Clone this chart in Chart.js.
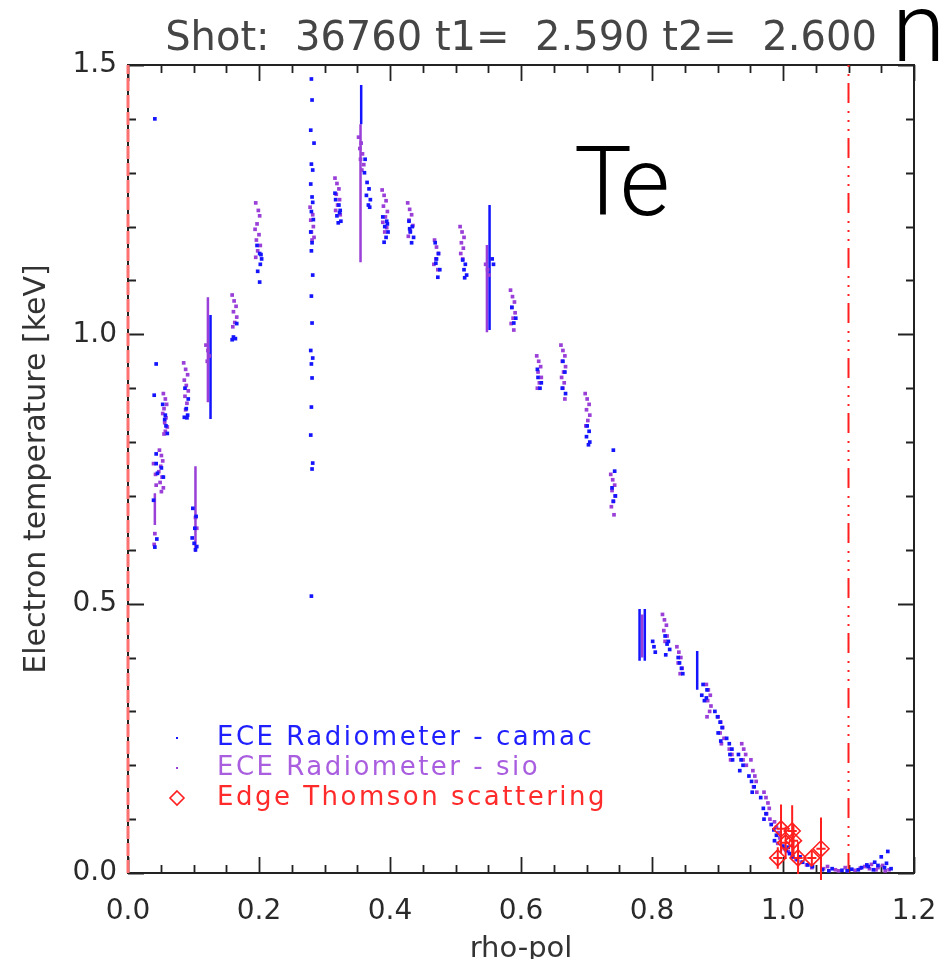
<!DOCTYPE html>
<html>
<head>
<meta charset="utf-8">
<title>Te profile</title>
<script src="https://cdn.jsdelivr.net/npm/chart.js@4/dist/chart.umd.min.js"></script>
<style>
  html, body { margin: 0; padding: 0; background: #fff; }
  #wrap { width: 943px; height: 959px; position: relative; }
</style>
</head>
<body>
<div id="wrap"><canvas id="c" width="943" height="959"></canvas></div>
<script>
// ---- ECE radiometer (camac) samples: rho-pol and Te [keV]
const camacRho = [
  0.041, 0.043, 0.040, 0.043, 0.039, 0.041, 0.044, 0.043, 0.045,
  0.053, 0.057, 0.058, 0.060, 0.051, 0.054, 0.056,
  0.086, 0.091, 0.089, 0.087, 0.092, 0.090,
  0.099, 0.104, 0.102, 0.098, 0.105, 0.103, 0.101,
  0.159, 0.164, 0.166, 0.161,
  0.201, 0.204, 0.202, 0.198, 0.201, 0.197, 0.203,
  0.280, 0.281, 0.279, 0.284, 0.280, 0.282, 0.279, 0.281, 0.282, 0.280, 0.283, 0.279, 0.281, 0.280, 0.282, 0.280, 0.281, 0.279, 0.282, 0.280, 0.281, 0.280, 0.279, 0.282, 0.281, 0.280,
  0.317, 0.322, 0.324, 0.319, 0.325, 0.321, 0.316, 0.323,
  0.361, 0.365, 0.368, 0.364, 0.370, 0.367, 0.362, 0.369,
  0.389, 0.395, 0.392, 0.397, 0.394, 0.391, 0.396,
  0.429, 0.434, 0.431, 0.436, 0.433, 0.430,
  0.469, 0.474, 0.471, 0.476, 0.473, 0.470,
  0.511, 0.515, 0.513, 0.517, 0.514,
  0.556, 0.558,
  0.589, 0.592, 0.586,
  0.626, 0.631, 0.629, 0.625,
  0.664, 0.667, 0.663, 0.668,
  0.701, 0.704, 0.700, 0.705, 0.703,
  0.741, 0.743, 0.739, 0.744, 0.741,
  0.801, 0.805, 0.803,
  0.820, 0.825, 0.823, 0.827, 0.821,
  0.840, 0.845, 0.847, 0.842,
  0.876, 0.880, 0.883, 0.878, 0.884,
  0.896, 0.900, 0.904, 0.907, 0.901, 0.905,
  0.914, 0.918, 0.922, 0.919, 0.923,
  0.932, 0.936, 0.939, 0.934,
  0.948, 0.952, 0.956, 0.953,
  0.966, 0.970, 0.974, 0.971,
  0.982, 0.986, 0.990, 0.987,
  1.000, 1.005, 1.010, 1.015, 1.022, 1.030, 1.038, 1.045, 1.008, 1.026,
  1.060, 1.070, 1.075, 1.090, 1.098, 1.105, 1.115, 1.120, 1.128, 1.130, 1.138, 1.140, 1.145, 1.150, 1.155, 1.158, 1.160, 1.165
];
const camacTe = [
  1.400, 0.945, 0.887, 0.778, 0.692, 0.605, 0.620, 0.760, 0.742,
  0.870, 0.850, 0.830, 0.816, 0.752, 0.735, 0.842,
  0.846, 0.850, 0.862, 0.900, 0.880, 0.845,
  0.677, 0.662, 0.640, 0.622, 0.606, 0.600, 0.612,
  0.990, 0.992, 1.020, 0.995,
  1.150, 1.140, 1.130, 1.117, 1.097, 1.165, 1.148,
  1.474, 1.435, 1.379, 1.355, 1.316, 1.305, 1.279, 1.255, 1.245, 1.228, 1.213, 1.190, 1.170, 1.155, 1.110, 1.071, 1.021, 0.970, 0.956, 0.945, 0.919, 0.865, 0.813, 0.761, 0.750, 0.514,
  1.250, 1.240, 1.230, 1.220, 1.210, 1.207, 1.262, 1.226,
  1.300, 1.282, 1.270, 1.258, 1.250, 1.240, 1.325, 1.236,
  1.218, 1.210, 1.200, 1.190, 1.180, 1.171, 1.205,
  1.210, 1.200, 1.190, 1.180, 1.170, 1.196,
  1.170, 1.150, 1.140, 1.120, 1.106, 1.132,
  1.138, 1.130, 1.120, 1.110, 1.105,
  1.140, 1.130,
  1.021, 1.030, 1.050,
  0.920, 0.910, 0.900, 0.935,
  0.950, 0.930, 0.900, 0.890,
  0.830, 0.820, 0.810, 0.800, 0.795,
  0.785, 0.746, 0.715, 0.700, 0.690,
  0.430, 0.410, 0.420,
  0.440, 0.430, 0.425, 0.415, 0.405,
  0.400, 0.380, 0.370, 0.390,
  0.330, 0.320, 0.325, 0.350, 0.340,
  0.300, 0.290, 0.280, 0.270, 0.260, 0.245,
  0.250, 0.240, 0.230, 0.220, 0.210,
  0.220, 0.210, 0.200, 0.190,
  0.180, 0.170, 0.160, 0.150,
  0.140, 0.120, 0.110, 0.100,
  0.090, 0.080, 0.070, 0.060,
  0.050, 0.042, 0.036, 0.030, 0.025, 0.020, 0.015, 0.012, 0.048, 0.030,
  0.006, 0.004, 0.008, 0.005, 0.004, 0.007, 0.006, 0.010, 0.015, 0.012, 0.006, 0.020, 0.014, 0.030, 0.010, 0.018, 0.040, 0.008
];

// ---- ECE radiometer (sio) samples
const sioRho = [
  0.039, 0.042, 0.043, 0.041, 0.040,
  0.048, 0.051, 0.053, 0.050, 0.047, 0.052, 0.049, 0.054, 0.051,
  0.054, 0.057, 0.059, 0.055, 0.053, 0.058, 0.056, 0.060, 0.057, 0.055,
  0.085, 0.088, 0.091, 0.086, 0.089, 0.092, 0.087, 0.090, 0.088,
  0.103, 0.105,
  0.119, 0.122, 0.124, 0.121,
  0.159, 0.162, 0.165, 0.161, 0.166, 0.163, 0.160,
  0.195, 0.199, 0.201, 0.197, 0.194, 0.200, 0.196, 0.202, 0.198, 0.195,
  0.278, 0.282, 0.279, 0.283, 0.280, 0.284, 0.281,
  0.316, 0.319, 0.322, 0.318, 0.323, 0.320, 0.317, 0.324,
  0.352, 0.356, 0.354, 0.358, 0.355, 0.360, 0.357,
  0.388, 0.391, 0.394, 0.390, 0.396, 0.393, 0.389, 0.395, 0.392,
  0.427, 0.430, 0.433, 0.429, 0.435, 0.431, 0.428,
  0.468, 0.471, 0.474, 0.470, 0.467, 0.473,
  0.507, 0.510, 0.513, 0.509, 0.512, 0.508, 0.511,
  0.546, 0.549, 0.551,
  0.584, 0.587, 0.590, 0.586, 0.591, 0.588, 0.585, 0.589,
  0.624, 0.627, 0.630, 0.626, 0.631, 0.628, 0.625,
  0.661, 0.664, 0.667, 0.663, 0.668, 0.665, 0.662, 0.666, 0.664, 0.667,
  0.698, 0.701, 0.704, 0.700, 0.705, 0.702, 0.699,
  0.737, 0.740, 0.743, 0.739, 0.744, 0.741, 0.738, 0.742,
  0.816, 0.819, 0.822, 0.818, 0.823, 0.820,
  0.838, 0.841, 0.844, 0.840, 0.846, 0.843,
  0.883, 0.886, 0.889, 0.885, 0.890, 0.888, 0.884,
  0.901, 0.905, 0.908, 0.904, 0.910, 0.906,
  0.918, 0.922, 0.920,
  0.937, 0.940, 0.943, 0.939, 0.944,
  0.951, 0.954, 0.957, 0.959, 0.955, 0.960,
  0.971, 0.974, 0.977, 0.979, 0.975, 0.980,
  0.987, 0.990, 0.993, 0.995, 0.992,
  1.002, 1.008, 1.014, 1.020, 1.028, 1.036, 1.044,
  1.062, 1.068, 1.080, 1.085, 1.095, 1.110, 1.118, 1.125, 1.132, 1.135, 1.142, 1.145, 1.152, 1.156, 1.162
];
const sioTe = [
  0.760, 0.740, 0.720, 0.630, 0.610,
  0.785, 0.775, 0.765, 0.755, 0.745, 0.735, 0.725, 0.715, 0.708,
  0.890, 0.880, 0.870, 0.862, 0.853, 0.845, 0.836, 0.828, 0.820, 0.815,
  0.947, 0.935, 0.925, 0.915, 0.905, 0.895, 0.885, 0.872, 0.860,
  0.660, 0.640,
  0.980, 0.970, 0.960, 0.950,
  1.073, 1.062, 1.052, 1.042, 1.032, 1.022, 1.014,
  1.244, 1.230, 1.220, 1.205, 1.195, 1.185, 1.175, 1.165, 1.155, 1.143,
  1.236, 1.222, 1.212, 1.200, 1.190, 1.180, 1.175,
  1.290, 1.280, 1.270, 1.260, 1.250, 1.240, 1.230, 1.222,
  1.366, 1.355, 1.345, 1.335, 1.325, 1.315, 1.305,
  1.268, 1.258, 1.248, 1.238, 1.228, 1.218, 1.208, 1.198, 1.190,
  1.244, 1.232, 1.222, 1.212, 1.202, 1.192, 1.182,
  1.175, 1.162, 1.150, 1.140, 1.130, 1.120,
  1.200, 1.190, 1.180, 1.170, 1.160, 1.150, 1.140,
  1.130, 1.120, 1.110,
  1.082, 1.070, 1.060, 1.050, 1.040, 1.030, 1.020, 1.008,
  0.960, 0.950, 0.940, 0.930, 0.920, 0.910, 0.900,
  0.980, 0.970, 0.960, 0.950, 0.940, 0.930, 0.920, 0.910, 0.900, 0.880,
  0.890, 0.880, 0.870, 0.860, 0.850, 0.840, 0.830,
  0.740, 0.730, 0.720, 0.710, 0.700, 0.690, 0.680, 0.665,
  0.480, 0.470, 0.460, 0.450, 0.440, 0.430,
  0.420, 0.410, 0.400, 0.390, 0.380, 0.370,
  0.350, 0.340, 0.330, 0.320, 0.310, 0.300, 0.290,
  0.290, 0.280, 0.270, 0.260, 0.250, 0.240,
  0.230, 0.220, 0.210,
  0.240, 0.230, 0.220, 0.210, 0.200,
  0.210, 0.190, 0.180, 0.170, 0.160, 0.150,
  0.150, 0.140, 0.130, 0.120, 0.110, 0.100,
  0.095, 0.085, 0.075, 0.065, 0.055,
  0.045, 0.040, 0.030, 0.025, 0.020, 0.015, 0.010,
  0.008, 0.012, 0.006, 0.004, 0.010, 0.005, 0.009, 0.012, 0.008, 0.016, 0.006, 0.010, 0.014, 0.004, 0.006
];

// ---- dense channel traces (min/max of Te over the time window)
const camacSpanRho = [0.126, 0.356, 0.552, 0.781, 0.789, 0.869];
const camacSpanLo  = [0.843, 1.390, 1.008, 0.394, 0.394, 0.340];
const camacSpanHi  = [1.036, 1.463, 1.240, 0.490, 0.490, 0.412];
const sioSpanRho   = [0.041, 0.103, 0.122, 0.355, 0.548, 0.785];
const sioSpanLo    = [0.646, 0.596, 0.874, 1.134, 1.004, 0.400];
const sioSpanHi    = [0.705, 0.755, 1.069, 1.390, 1.166, 0.480];

// ---- edge Thomson scattering with error bars
const thomsonRho    = [0.992, 0.997, 1.004, 1.014, 1.016, 1.023, 1.044, 1.058];
const thomsonTe     = [0.028, 0.082, 0.056, 0.078, 0.060, 0.028, 0.028, 0.045];
const thomsonTeErr  = [0.020, 0.045, 0.030, 0.048, 0.030, 0.030, 0.015, 0.058];
const thomsonRhoErr = [0.007, 0.007, 0.007, 0.007, 0.007, 0.007, 0.007, 0.007];

// ---- reference positions (magnetic axis and limiter)
const markerRho = [0.0, 1.1];

// ---- axes
const xRange = [0, 1.2], xMajor = 0.2, xMinor = 0.05;
const yRange = [0, 1.5], yMajor = 0.5, yMinor = 0.1;

const titleText = 'Shot:  36760 t1=  2.590 t2=  2.600';
const yTitle = 'Electron temperature [keV]';
const xTitle = 'rho-pol';

const BLUE = '#1414ff';
const PURPLE = '#9a3fd8';
const RED = '#ff1f1f';

function pts(xs, ys) { return xs.map((v, i) => ({ x: v, y: ys[i] })); }
function spans(xs, lo, hi) {
  const out = [];
  xs.forEach((v, i) => { out.push({ x: v, y: lo[i] }, { x: v, y: hi[i] }, { x: v, y: null }); });
  return out;
}
function errBars(xs, ys, ey, ex) {
  const out = [];
  xs.forEach((v, i) => {
    out.push({ x: v, y: ys[i] - ey[i] }, { x: v, y: ys[i] + ey[i] }, { x: v, y: null });
    out.push({ x: v - ex[i], y: ys[i] }, { x: v + ex[i], y: ys[i] }, { x: v, y: null });
  });
  return out;
}

// frame with inward ticks on all four sides
const frameTicks = {
  id: 'frameTicks',
  beforeDatasetsDraw(chart) {
    const { ctx, chartArea: a, scales: { x, y } } = chart;
    ctx.save();
    ctx.strokeStyle = '#222';
    ctx.lineWidth = 2;
    ctx.strokeRect(a.left, a.top, a.right - a.left, a.bottom - a.top);
    ctx.lineWidth = 1.8;
    ctx.beginPath();
    const nx = Math.round((xRange[1] - xRange[0]) / xMinor);
    for (let k = 0; k <= nx; k++) {
      const v = xRange[0] + k * xMinor;
      const px = Math.round(x.getPixelForValue(v)) + 0.5;
      const major = Math.abs(v / xMajor - Math.round(v / xMajor)) < 1e-6;
      const len = major ? 16 : 8;
      ctx.moveTo(px, a.bottom); ctx.lineTo(px, a.bottom - len);
      ctx.moveTo(px, a.top); ctx.lineTo(px, a.top + len);
    }
    const ny = Math.round((yRange[1] - yRange[0]) / yMinor);
    for (let k = 0; k <= ny; k++) {
      const v = yRange[0] + k * yMinor;
      const py = Math.round(y.getPixelForValue(v)) + 0.5;
      const major = Math.abs(v / yMajor - Math.round(v / yMajor)) < 1e-6;
      const len = major ? 16 : 8;
      ctx.moveTo(a.left, py); ctx.lineTo(a.left + len, py);
      ctx.moveTo(a.right, py); ctx.lineTo(a.right - len, py);
    }
    ctx.stroke();
    ctx.restore();
  }
};

// legend inside the plot and the panel annotations
const overlay = {
  id: 'overlay',
  afterDraw(chart) {
    const { ctx } = chart;
    ctx.save();
    const items = chart.data.datasets
      .filter(d => d.legendRank !== undefined)
      .sort((a, b) => a.legendRank - b.legendRank);
    ctx.font = '26px "DejaVu Sans"';
    ctx.textBaseline = 'middle';
    ctx.textAlign = 'left';
    if ('letterSpacing' in ctx) ctx.letterSpacing = '2.5px';
    items.forEach((d, i) => {
      const yy = 738 + i * 30;
      if (d.key === 'ts') {
        ctx.strokeStyle = d.borderColor;
        ctx.lineWidth = 1.6;
        ctx.beginPath();
        ctx.moveTo(177, yy - 7); ctx.lineTo(184, yy); ctx.lineTo(177, yy + 7); ctx.lineTo(170, yy); ctx.closePath();
        ctx.stroke();
      } else {
        ctx.fillStyle = d.backgroundColor;
        ctx.fillRect(176, yy - 1, 2, 2);
      }
      ctx.fillStyle = d.legendTextColor;
      ctx.fillText(d.label, 217, yy);
    });
    if ('letterSpacing' in ctx) ctx.letterSpacing = '0px';
    // panel labels
    ctx.fillStyle = '#000';
    ctx.textBaseline = 'alphabetic';
    ctx.font = '300 97px Roboto, "Open Sans", sans-serif';
    ctx.textAlign = 'left';
    ctx.fillText('T', 574, 215);
    ctx.textAlign = 'right';
    ctx.fillText('e', 670, 215);
    ctx.textAlign = 'left';
    ctx.fillText('n', 892, 61);
    ctx.restore();
  }
};

const ctx = document.getElementById('c').getContext('2d');
new Chart(ctx, {
  type: 'scatter',
  data: {
    datasets: [
      {
        key: 'limits', type: 'line', label: 'rho limits',
        data: [{ x: markerRho[1], y: yRange[0] }, { x: markerRho[1], y: yRange[1] }],
        borderColor: RED, borderWidth: 2, borderDash: [20, 7, 2, 7, 2, 7, 2, 8],
        pointRadius: 0, clip: false, order: 6
      },
      {
        key: 'axis', type: 'line', label: 'axis',
        data: [{ x: markerRho[0], y: yRange[0] }, { x: markerRho[0], y: yRange[1] }],
        borderColor: '#ff7070', borderWidth: 3, borderDash: [13, 4],
        pointRadius: 0, clip: false, order: 0
      },
      {
        key: 'sioSpan', type: 'line', label: 'sio traces',
        data: spans(sioSpanRho, sioSpanLo, sioSpanHi),
        borderColor: PURPLE, borderWidth: 2.5, pointRadius: 0, spanGaps: false, order: 5
      },
      {
        key: 'camacSpan', type: 'line', label: 'camac traces',
        data: spans(camacSpanRho, camacSpanLo, camacSpanHi),
        borderColor: BLUE, borderWidth: 2.5, pointRadius: 0, spanGaps: false, order: 4
      },
      {
        key: 'sio', legendRank: 1, legendTextColor: '#a95ee0', label: 'ECE Radiometer - sio',
        data: pts(sioRho, sioTe),
        backgroundColor: PURPLE, borderColor: PURPLE,
        pointStyle: 'rect', pointRadius: 2.6, pointBorderWidth: 0, order: 3
      },
      {
        key: 'camac', legendRank: 0, legendTextColor: '#2020ff', label: 'ECE Radiometer - camac',
        data: pts(camacRho, camacTe),
        backgroundColor: BLUE, borderColor: BLUE,
        pointStyle: 'rect', pointRadius: 2.6, pointBorderWidth: 0, order: 2
      },
      {
        key: 'tsErr', type: 'line', label: 'Thomson errors',
        data: errBars(thomsonRho, thomsonTe, thomsonTeErr, thomsonRhoErr),
        borderColor: RED, borderWidth: 2, pointRadius: 0, spanGaps: false, clip: false, order: 1
      },
      {
        key: 'ts', legendRank: 2, legendTextColor: '#ff2a2a', label: 'Edge Thomson scattering',
        data: pts(thomsonRho, thomsonTe),
        backgroundColor: 'rgba(0,0,0,0)', borderColor: RED,
        pointStyle: 'rectRot', pointRadius: 8, pointBorderWidth: 1.6, clip: false, order: 1
      }
    ]
  },
  options: {
    responsive: false,
    animation: false,
    events: [],
    layout: { padding: { left: 0, right: 29, top: 0, bottom: 0 } },
    plugins: {
      legend: { display: false },
      tooltip: { enabled: false },
      title: {
        display: true, text: titleText, fullSize: false,
        color: '#454545',
        font: { family: '"DejaVu Sans"', size: 40, weight: 'normal' },
        padding: { top: 16, bottom: 1 }
      }
    },
    scales: {
      x: {
        type: 'linear', min: xRange[0], max: xRange[1],
        grid: { display: false, drawTicks: false },
        border: { display: false },
        ticks: {
          stepSize: xMajor, padding: 22, color: '#2a2a2a',
          font: { family: '"DejaVu Sans"', size: 28 },
          callback: v => v.toFixed(1), maxRotation: 0, autoSkip: false
        },
        title: {
          display: true, text: xTitle, color: '#333',
          font: { family: '"DejaVu Sans"', size: 29 },
          padding: { top: 0, bottom: -8 }
        },
        afterFit: s => { s.height = 86; s.paddingLeft = 0; s.paddingRight = 0; }
      },
      y: {
        type: 'linear', min: yRange[0], max: yRange[1],
        grid: { display: false, drawTicks: false },
        border: { display: false },
        ticks: {
          stepSize: yMajor, padding: 11, color: '#2a2a2a',
          font: { family: '"DejaVu Sans"', size: 28 },
          callback: v => v.toFixed(1)
        },
        title: {
          display: true, text: yTitle, color: '#333',
          font: { family: '"DejaVu Sans"', size: 30 },
          padding: { top: 19, bottom: 0 }
        },
        afterFit: s => { s.width = 128; s.paddingTop = 0; s.paddingBottom = 0; }
      }
    }
  },
  plugins: [frameTicks, overlay]
});
</script>
</body>
</html>
